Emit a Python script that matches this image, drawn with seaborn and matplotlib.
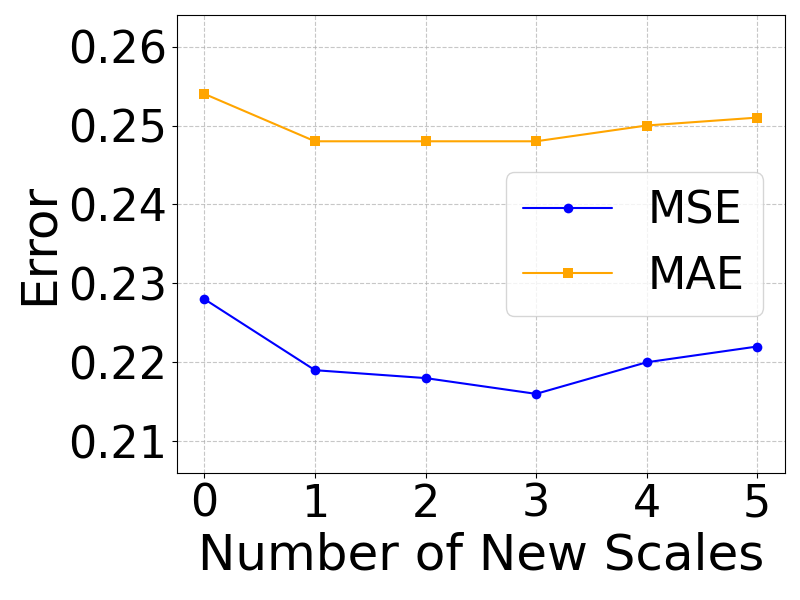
import matplotlib
matplotlib.use('Agg')
import matplotlib.pyplot as plt
import seaborn as sns
import pandas as pd

scales = [0, 1, 2, 3, 4, 5]
mse = [0.228, 0.219, 0.218, 0.216, 0.220, 0.222]
mae = [0.254, 0.248, 0.248, 0.248, 0.250, 0.251]

sns.set_style('ticks')
plt.rcParams['font.family'] = ['DejaVu Sans']
plt.rcParams.update({'text.color': 'black', 'axes.labelcolor': 'black',
                     'xtick.color': 'black', 'ytick.color': 'black',
                     'axes.edgecolor': 'black'})

df = pd.DataFrame({'scale': scales, 'MSE': mse, 'MAE': mae})

fig, ax = plt.subplots(figsize=(8, 6), dpi=100)
sns.lineplot(data=df, x='scale', y='MSE', marker='o', color='blue',
             markeredgewidth=0, markersize=7, label='MSE', ax=ax)
sns.lineplot(data=df, x='scale', y='MAE', marker='s', color='orange',
             markeredgewidth=0, markersize=7, label='MAE', ax=ax)

ax.set_ylim(min(mse) - 0.01, max(mae) + 0.01)
ax.set_xticks(scales)
ax.set_yticks([0.21, 0.22, 0.23, 0.24, 0.25, 0.26])
ax.tick_params(labelsize=32)
ax.set_xlabel('Number of New Scales', fontsize=36)
ax.set_ylabel('Error', fontsize=36)
ax.grid(True, linestyle='--', color='#b0b0b0', alpha=0.7)
ax.legend(fontsize=32, loc='center right')

fig.subplots_adjust(left=0.221, right=0.981, top=0.975, bottom=0.212)
plt.savefig('out.png')
plt.close()
